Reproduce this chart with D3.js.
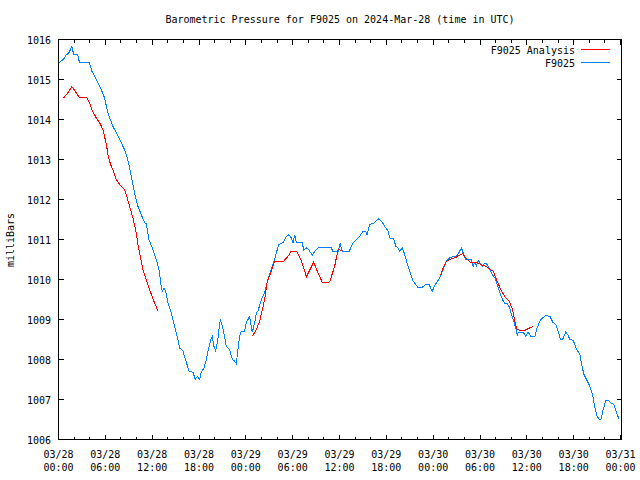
<!DOCTYPE html>
<html><head><meta charset="utf-8">
<script src="https://cdn.jsdelivr.net/npm/d3@7"></script>
<style>
body{margin:0;background:#fff;}
svg{display:block;}
text{font-family:"DejaVu Sans Mono","Liberation Mono",monospace;font-size:10px;fill:#000;}
</style></head><body>
<svg id="c" width="640" height="480"></svg>
<script>
const title = "Barometric Pressure for F9025 on 2024-Mar-28 (time in UTC)";
const yLabel = "milliBars";
const seriesNames = ["F9025 Analysis", "F9025"];
const startTime = "2024-03-28T00:00:00Z";
const yTicks = [1006,1007,1008,1009,1010,1011,1012,1013,1014,1015,1016];

// F9025 station: hours since start, pressure (mb)
const stationHours = [0.13,0.77,0.99,1.28,1.71,1.96,2.47,2.69,3.97,4.27,4.83,5.47,5.90,6.32,6.96,7.40,8.04,8.55,8.97,9.32,9.74,10.17,10.60,11.03,11.24,11.58,12.09,12.53,12.95,13.17,13.29,13.53,13.72,14.01,14.45,14.87,15.29,15.51,15.94,16.28,16.71,17.22,17.53,17.78,18.08,18.29,18.63,18.94,19.14,19.58,19.71,19.91,20.13,20.42,20.55,20.73,20.99,21.28,21.50,21.92,22.27,22.56,22.78,22.99,23.21,23.42,23.85,24.06,24.49,24.71,24.83,25.13,25.35,25.55,25.99,26.41,26.83,27.27,27.69,27.91,28.24,28.76,29.19,29.53,29.83,30.04,30.26,30.47,31.24,31.41,31.76,32.05,32.53,32.82,33.24,34.96,35.17,35.81,36.09,36.37,37.22,37.73,38.17,38.59,39.01,39.36,39.53,39.87,40.51,40.94,41.37,41.79,42.22,42.44,42.95,43.21,43.50,43.72,44.06,44.36,44.65,45.00,45.42,45.77,46.06,46.50,47.05,47.47,47.88,48.14,48.42,48.85,49.27,49.71,50.13,50.55,50.99,51.32,51.63,51.83,52.18,52.91,53.12,53.33,53.55,53.76,54.06,54.32,54.53,54.83,55.17,55.60,55.90,56.19,56.54,56.88,57.18,57.47,57.82,58.04,58.33,58.68,58.81,58.88,59.53,59.87,60.17,60.51,61.03,61.28,61.58,61.88,62.44,62.95,63.37,63.72,64.01,64.32,64.58,65.00,65.29,65.51,65.94,66.37,66.79,67.01,67.31,67.65,68.08,68.42,68.72,69.01,69.27,69.49,69.78,70.13,70.42,70.86,71.15,71.50,71.83];
const stationValues = [1015.42,1015.54,1015.62,1015.65,1015.82,1015.62,1015.62,1015.42,1015.42,1015.21,1015.00,1014.75,1014.54,1014.17,1013.83,1013.67,1013.42,1013.21,1012.92,1012.58,1012.17,1011.83,1011.62,1011.42,1011.40,1011.00,1010.75,1010.50,1010.17,1009.79,1009.71,1009.79,1009.71,1009.42,1009.17,1008.83,1008.50,1008.29,1008.21,1008.00,1007.71,1007.68,1007.50,1007.58,1007.50,1007.68,1007.79,1008.00,1008.21,1008.54,1008.58,1008.33,1008.21,1008.50,1008.75,1009.00,1008.83,1008.58,1008.33,1008.25,1008.00,1007.96,1007.90,1008.25,1008.58,1008.71,1008.71,1008.92,1009.08,1008.79,1008.68,1008.92,1009.17,1009.21,1009.50,1009.67,1010.00,1010.25,1010.50,1010.67,1010.88,1010.92,1011.08,1011.12,1011.04,1010.92,1011.12,1010.92,1010.92,1010.73,1010.79,1010.75,1010.60,1010.71,1010.79,1010.79,1010.69,1010.69,1010.90,1010.69,1010.69,1010.92,1011.00,1011.08,1011.21,1011.21,1011.12,1011.38,1011.42,1011.52,1011.46,1011.33,1011.21,1011.04,1011.02,1010.83,1010.79,1010.71,1010.79,1010.62,1010.42,1010.21,1009.96,1009.88,1009.79,1009.79,1009.88,1009.88,1009.70,1009.83,1009.92,1010.04,1010.25,1010.46,1010.54,1010.58,1010.58,1010.68,1010.79,1010.67,1010.50,1010.50,1010.33,1010.42,1010.33,1010.48,1010.40,1010.33,1010.40,1010.40,1010.29,1010.12,1010.04,1009.88,1009.67,1009.50,1009.40,1009.40,1009.29,1009.12,1008.96,1008.71,1008.58,1008.68,1008.68,1008.58,1008.68,1008.58,1008.58,1008.77,1008.92,1009.02,1009.10,1009.08,1008.92,1008.88,1008.71,1008.50,1008.50,1008.69,1008.60,1008.50,1008.48,1008.25,1008.13,1007.88,1007.63,1007.50,1007.33,1007.13,1006.79,1006.58,1006.50,1006.50,1006.75,1006.98,1006.98,1006.90,1006.88,1006.67,1006.50];

// F9025 Analysis: hours since start, pressure (mb); null marks a gap
const analysisHours = [0.68,1.19,1.71,2.27,2.69,3.63,3.97,4.27,4.83,5.38,5.68,5.99,6.24,6.41,6.76,6.96,7.40,7.82,8.46,8.76,9.10,9.53,9.96,10.17,10.47,10.81,11.24,11.67,12.09,12.73,null,
 24.83,25.35,25.77,26.12,26.41,26.71,27.27,27.69,28.76,29.40,29.83,30.51,31.12,31.76,32.69,33.24,33.81,34.74,35.38,35.81,36.24,null,
 48.97,49.27,49.71,50.35,50.99,51.76,52.27,52.78,53.76,54.32,54.83,55.26,55.68,56.19,56.76,57.18,57.73,58.17,58.46,58.68,59.10,59.74,60.17,60.81];
const analysisValues = [1014.54,1014.67,1014.82,1014.67,1014.54,1014.54,1014.42,1014.25,1014.04,1013.88,1013.75,1013.50,1013.25,1013.04,1012.83,1012.75,1012.50,1012.38,1012.25,1012.08,1011.83,1011.54,1011.17,1010.88,1010.58,1010.25,1010.00,1009.75,1009.52,1009.22,null,
 1008.58,1008.75,1008.96,1009.25,1009.50,1009.92,1010.21,1010.46,1010.44,1010.58,1010.71,1010.70,1010.46,1010.07,1010.43,1010.17,1009.92,1009.94,1010.33,1010.75,1010.73,null,
 1010.12,1010.29,1010.46,1010.52,1010.56,1010.65,1010.52,1010.43,1010.41,1010.35,1010.33,1010.25,1010.21,1009.96,1009.71,1009.57,1009.46,1009.25,1008.96,1008.77,1008.73,1008.73,1008.77,1008.83];

const colors = ["#ff0000", "#0080ff"];

const t0 = new Date(startTime);
const toDate = h => new Date(t0.getTime() + h*3600e3);
const station = stationHours.map((h,i)=>({t:toDate(h), v:stationValues[i]}));
const analysis = analysisHours.map((h,i)=>({t:h==null?null:toDate(h), v:analysisValues[i]}));

const L=58.5, R=621.5, T=39.5, B=439.5;
const svg = d3.select("#c");
const x = d3.scaleUtc().domain([t0, toDate(72)]).range([L, 620.5]);
const y = d3.scaleLinear().domain([1006,1016]).range([B, T]);

// ticks
const g = svg.append("g").attr("stroke","#000").attr("stroke-width",1).attr("shape-rendering","crispEdges");
const minorT = d3.utcHour.every(2).range(t0, toDate(72.01));
minorT.forEach(d=>{
  const major = d.getUTCHours()%6===0;
  const len = major?5:3;
  const xx = Math.round(x(d)-0.5)+0.5;
  g.append("line").attr("x1",xx).attr("x2",xx).attr("y1",B).attr("y2",B-len);
  g.append("line").attr("x1",xx).attr("x2",xx).attr("y1",T).attr("y2",T+len);
});
yTicks.forEach(v=>{
  const yy = Math.round(y(v)-0.5)+0.5;
  g.append("line").attr("x1",L).attr("x2",L+5).attr("y1",yy).attr("y2",yy);
  g.append("line").attr("x1",R).attr("x2",R-5).attr("y1",yy).attr("y2",yy);
});
g.append("rect").attr("x",L).attr("y",T).attr("width",R-L).attr("height",B-T).attr("fill","none");

// y labels
yTicks.forEach(v=>{
  svg.append("text").attr("x",51).attr("y",y(v)+4).attr("text-anchor","end").text(v);
});
// x labels
const fmtD = d3.utcFormat("%m/%d"), fmtH = d3.utcFormat("%H:%M");
d3.utcHour.every(6).range(t0, toDate(72.01)).forEach(d=>{
  const xx = x(d);
  svg.append("text").attr("x",xx).attr("y",458).attr("text-anchor","middle").text(fmtD(d));
  svg.append("text").attr("x",xx).attr("y",471).attr("text-anchor","middle").text(fmtH(d));
});

svg.append("text").attr("x",340).attr("y",23).attr("text-anchor","middle").text(title);
svg.append("text").attr("transform","translate(14,240) rotate(-90)").attr("text-anchor","middle").text(yLabel);

const line = d3.line().defined(d=>d.t!=null && d.v!=null).x(d=>x(d.t)).y(d=>y(d.v));
svg.append("path").datum(station).attr("d",line).attr("fill","none").attr("stroke",colors[1]).attr("stroke-width",1).attr("shape-rendering","crispEdges");
svg.append("path").datum(analysis).attr("d",line).attr("fill","none").attr("stroke",colors[0]).attr("stroke-width",1).attr("shape-rendering","crispEdges");

// legend
seriesNames.forEach((n,i)=>{
  const yy = 49.5 + i*13;
  svg.append("text").attr("x",575).attr("y",yy+4).attr("text-anchor","end").text(n);
  svg.append("line").attr("x1",581).attr("x2",610).attr("y1",yy).attr("y2",yy).attr("stroke",colors[i]).attr("stroke-width",1).attr("shape-rendering","crispEdges");
});
</script></body></html>
